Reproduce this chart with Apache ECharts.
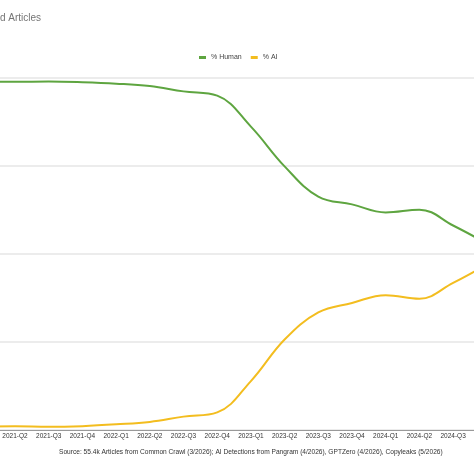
<!DOCTYPE html>
<html>
<head>
<meta charset="utf-8">
<title></title>
<style>
  body { margin: 0; overflow: hidden; background: #fff; }
  /* chart is wider than the window, the reference is a crop */
  #main { position: absolute; left: -60px; top: 0; width: 600px; height: 474px; }
</style>
</head>
<body>
<div id="main"></div>
<script src="https://cdn.jsdelivr.net/npm/echarts@6/dist/echarts.min.js"></script>
<script type="text/javascript">
var quarters = ['2021-Q1', '2021-Q2', '2021-Q3', '2021-Q4', '2022-Q1', '2022-Q2', '2022-Q3', '2022-Q4',
  '2023-Q1', '2023-Q2', '2023-Q3', '2023-Q4', '2024-Q1', '2024-Q2', '2024-Q3', '2024-Q4'];
var human = [99.0, 98.9, 99.0, 98.8, 98.4, 97.7, 96.2, 95.0,
  86.2, 74.9, 66.3, 64.1, 61.8, 62.6, 58.1, 53.0];
var ai = [1.0, 1.1, 0.9, 1.1, 1.6, 2.3, 3.8, 5.0,
  13.9, 25.7, 33.4, 36.1, 38.3, 37.3, 41.8, 47.0];
var yTicks = [0, 25, 50, 75, 100];

var myChart = echarts.init(document.getElementById('main'));
var option = {
  animation: false,
  title: {
    text: 'Share of Human-Written vs AI-Generated Articles',
    right: 499,
    top: 13,
    padding: 0,
    textStyle: { fontFamily: 'Liberation Sans', fontSize: 10, fontWeight: 'normal', color: '#757575' }
  },
  legend: {
    data: ['% Human', '% AI'],
    left: 254,
    top: 49,
    itemWidth: 7,
    itemHeight: 3,
    itemGap: 9,
    icon: 'rect',
    textStyle: { fontFamily: 'Liberation Sans', fontSize: 7, color: '#444' }
  },
  grid: { left: 41.3, right: 53.2, top: 78, bottom: 44 },
  xAxis: {
    type: 'category',
    boundaryGap: false,
    data: quarters,
    axisLine: { lineStyle: { color: '#999', width: 1 } },
    axisTick: { show: false },
    axisLabel: { interval: 0, margin: 3, fontFamily: 'Liberation Sans', fontSize: 6.5, color: '#333' }
  },
  yAxis: {
    type: 'value',
    min: yTicks[0],
    max: yTicks[yTicks.length - 1],
    interval: 25,
    axisLabel: { formatter: '{value}%', fontSize: 9, color: '#333' },
    splitLine: { lineStyle: { color: '#e6e6e6', width: 1.5 } }
  },
  graphic: [{
    type: 'text',
    left: 119,
    top: 449,
    style: {
      text: 'Source: 55.4k Articles from Common Crawl (3/2026); AI Detections from Pangram (4/2026), GPTZero (4/2026), Copyleaks (5/2026)',
      font: '6.6px "Liberation Sans"',
      fill: '#333'
    }
  }],
  series: [
    {
      name: '% Human',
      type: 'line',
      data: human,
      smooth: 0.4,
      showSymbol: false,
      lineStyle: { width: 2, color: '#5ea540' },
      itemStyle: { color: '#5ea540' }
    },
    {
      name: '% AI',
      type: 'line',
      data: ai,
      smooth: 0.4,
      showSymbol: false,
      lineStyle: { width: 2, color: '#f3bd1f' },
      itemStyle: { color: '#f3bd1f' }
    }
  ]
};
myChart.setOption(option);
</script>
</body>
</html>
